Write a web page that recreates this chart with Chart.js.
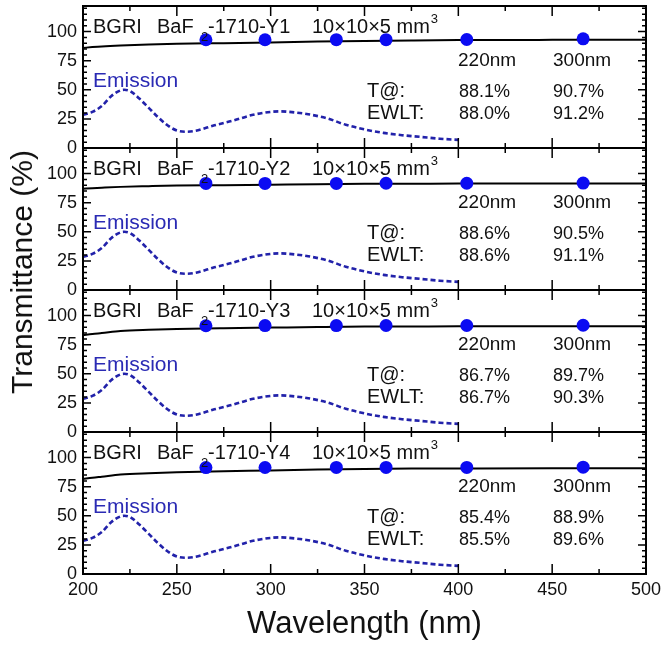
<!DOCTYPE html>
<html>
<head>
<meta charset="utf-8">
<script src="https://cdn.jsdelivr.net/npm/chart.js@4.4.1/dist/chart.umd.min.js"></script>
<style>
  body { margin: 0; background: #fff; }
  #wrap { position: relative; width: 662px; height: 645px; overflow: hidden; background: #fff; }
  #wrap canvas { position: absolute; left: 0; }
  #ytitle {
    position: absolute; left: 22px; top: 272px;
    transform: translate(-50%, -50%) rotate(-90deg);
    font: 30px "Liberation Sans", Arial, sans-serif; color: #111; white-space: nowrap;
  }
</style>
</head>
<body>
<div id="wrap">
  <canvas id="p0" width="662" height="178" style="top:-12px"></canvas>
  <canvas id="p1" width="662" height="178" style="top:130px"></canvas>
  <canvas id="p2" width="662" height="178" style="top:272px"></canvas>
  <canvas id="p3" width="662" height="231" style="top:414px"></canvas>
  <div id="ytitle">Transmittance (%)</div>
</div>
<script>
//Sample names
const samples = ["Y1", "Y2", "Y3", "Y4"];

//Transmittance curves (%)
const wavelength = [200, 205, 210, 220, 235, 250, 275, 300, 325, 350, 375, 400, 450, 500];
const transY1 = [86.0, 86.7, 87.3, 88.1, 88.9, 89.5, 90.1, 90.7, 91.4, 92.0, 92.4, 92.7, 92.9, 93.0];
const transY2 = [87.0, 87.5, 87.9, 88.6, 89.2, 89.7, 90.1, 90.5, 90.9, 91.2, 91.3, 91.4, 91.5, 91.5];
const transY3 = [83.2, 84.2, 85.0, 86.7, 87.8, 88.5, 89.2, 89.7, 90.2, 90.6, 90.7, 90.8, 90.8, 90.8];
const transY4 = [81.6, 82.7, 83.6, 85.4, 86.6, 87.4, 88.3, 88.9, 89.7, 90.3, 90.6, 90.7, 90.8, 90.8];

//Blue points
const dotWavelength = [265.5, 297, 335, 361.5, 404.5, 466.5];
const dotsY1 = [93.0, 93.0, 93.1, 93.1, 93.2, 93.8];
const dotsY2 = [91.6, 91.6, 91.6, 91.7, 91.7, 91.9];
const dotsY3 = [91.3, 91.4, 91.4, 91.5, 91.5, 91.7];
const dotsY4 = [91.4, 91.5, 91.6, 91.6, 91.6, 91.8];

//Emission spectrum (same in every panel)
const emissionWavelength = [200, 205, 210, 215, 220, 222, 225, 230, 235, 240, 245, 250, 255, 260, 270, 280, 290, 300, 305, 310, 320, 330, 340, 350, 360, 370, 380, 390, 400];
const emission = [28.5, 31, 36, 44.5, 49.5, 50, 49, 42.5, 34.5, 26.5, 19.5, 15, 14, 14.8, 19.5, 23.5, 28.3, 31, 31.5, 31, 29, 25.5, 20, 16, 13, 11, 9.5, 8, 7];

//Numbers printed in each panel
const t220 = ["88.1%", "88.6%", "86.7%", "85.4%"];
const t300 = ["90.7%", "90.5%", "89.7%", "88.9%"];
const ewlt220 = ["88.0%", "88.6%", "86.7%", "85.5%"];
const ewlt300 = ["91.2%", "91.1%", "90.3%", "89.6%"];

//Tick labels
const xTicks = [200, 250, 300, 350, 400, 450, 500];
const yTicks = [0, 25, 50, 75, 100];

const trans = [transY1, transY2, transY3, transY4];
const dots = [dotsY1, dotsY2, dotsY3, dotsY4];

const FONT = '"Liberation Sans", Arial, sans-serif';
Chart.defaults.font.family = FONT;

const pts = (xs, ys) => xs.map((x, i) => ({x: x, y: ys[i]}));

//frame, inward ticks and the panel texts
const panelDecor = {
  id: 'panelDecor',
  afterDatasetsDraw(chart, args, opts) {
    const {ctx, chartArea: {left, right, top, bottom}, scales: {x, y}} = chart;
    const i = opts.panel;
    ctx.save();
    ctx.strokeStyle = '#000';
    ctx.lineWidth = 1.5;
    ctx.beginPath();
    for (let v = x.min + 25; v < x.max; v += 25) {
      const px = x.getPixelForValue(v);
      const len = v % 50 === 0 ? 10 : 5;
      ctx.moveTo(px, bottom); ctx.lineTo(px, bottom - len);
      ctx.moveTo(px, top); ctx.lineTo(px, top + len);
    }
    for (let v = 5; v < y.max; v += 5) {
      const py = y.getPixelForValue(v);
      const len = v % 25 === 0 ? 8 : 4;
      ctx.moveTo(left, py); ctx.lineTo(left + len, py);
      ctx.moveTo(right, py); ctx.lineTo(right - len, py);
    }
    ctx.stroke();
    ctx.lineWidth = 2;
    ctx.strokeRect(left, top, right - left, bottom - top);

    ctx.fillStyle = '#111';
    ctx.textBaseline = 'alphabetic';
    const ty = top + 27;
    ctx.font = '20px ' + FONT;
    ctx.fillText('BGRI', left + 10, ty);
    ctx.fillText('BaF', left + 74, ty);
    ctx.fillText('-1710-' + samples[i], left + 125, ty);
    ctx.fillText('10\u00d710\u00d75 mm', left + 229, ty);
    const mmEnd = left + 229 + ctx.measureText('10\u00d710\u00d75 mm').width;
    ctx.font = '13px ' + FONT;
    ctx.fillText('2', left + 118, ty + 8);
    ctx.fillText('3', mmEnd + 1, ty - 10);

    ctx.font = '19px ' + FONT;
    ctx.fillText('220nm', left + 375, top + 60);
    ctx.fillText('300nm', left + 470, top + 60);
    ctx.font = '20px ' + FONT;
    ctx.fillText('T@:', left + 284, top + 91);
    ctx.fillText('EWLT:', left + 284, top + 112.5);
    ctx.font = '18px ' + FONT;
    ctx.fillText(t220[i], left + 376, top + 91);
    ctx.fillText(t300[i], left + 470, top + 91);
    ctx.fillText(ewlt220[i], left + 376, top + 112.5);
    ctx.fillText(ewlt300[i], left + 470, top + 112.5);

    ctx.fillStyle = '#2a2ab4';
    ctx.font = '21px ' + FONT;
    ctx.fillText('Emission', left + 10, top + 81);
    ctx.restore();
  }
};

function makePanel(i) {
  const last = i === 3;
  const config = {
    type: 'line',
    data: {
      datasets: [
        {data: pts(dotWavelength, dots[i]), showLine: false, pointRadius: 6.5, pointBackgroundColor: '#0b0bf2', pointBorderWidth: 0},
        {data: pts(wavelength, trans[i]), borderColor: '#000', borderWidth: 2, pointRadius: 0, cubicInterpolationMode: 'monotone'},
        {data: pts(emissionWavelength, emission), borderColor: '#2222aa', borderWidth: 2.6, borderDash: [5, 3], pointRadius: 0, cubicInterpolationMode: 'monotone'}
      ]
    },
    options: {
      responsive: false,
      animation: false,
      events: [],
      layout: {padding: {left: 0, right: 16, top: 18, bottom: last ? 0 : 18}},
      scales: {
        x: {
          type: 'linear', min: 200, max: 500, display: last,
          afterBuildTicks: s => { s.ticks = xTicks.map(v => ({value: v})); },
          afterFit: s => { s.height = last ? 71 : 0; s.paddingLeft = 0; s.paddingRight = 0; },
          grid: {display: false, drawTicks: false},
          border: {display: false},
          ticks: {font: {size: 18}, color: '#111', padding: 5, maxRotation: 0},
          title: {display: true, text: 'Wavelength (nm)', font: {size: 31}, color: '#111', padding: {top: 0, bottom: 2}}
        },
        y: {
          min: 0, max: 122,
          afterBuildTicks: s => { s.ticks = yTicks.map(v => ({value: v})); },
          afterFit: s => { s.width = 83; },
          grid: {display: false, drawTicks: false},
          border: {display: false},
          ticks: {font: {size: 18}, color: '#111', padding: 6}
        }
      },
      plugins: {
        legend: {display: false},
        tooltip: {enabled: false},
        panelDecor: {panel: i}
      }
    },
    plugins: [panelDecor]
  };
  return new Chart(document.getElementById('p' + i), config);
}

const panels = [0, 1, 2, 3].map(makePanel);
</script>
</body>
</html>
